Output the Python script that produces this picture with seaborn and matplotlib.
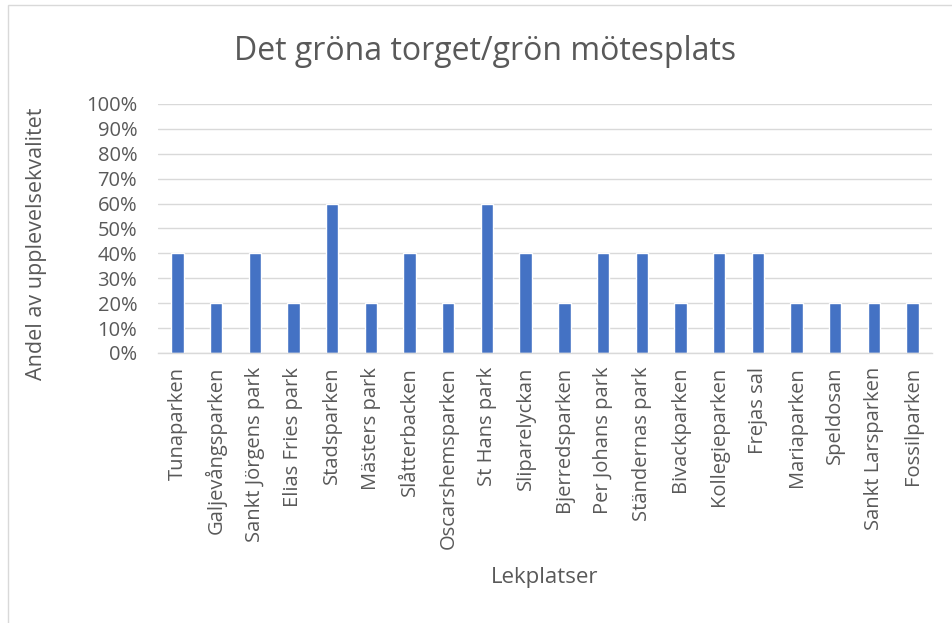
import numpy as np
import pandas as pd
import matplotlib
matplotlib.use("Agg")
import matplotlib.pyplot as plt
import seaborn as sns
from matplotlib.ticker import PercentFormatter
from matplotlib.patches import Rectangle

# Data
parker = ["Tunaparken", "Galjevångsparken", "Sankt Jörgens park", "Elias Fries park",
          "Stadsparken", "Mästers park", "Slåtterbacken", "Oscarshemsparken",
          "St Hans park", "Sliparelyckan", "Bjerredsparken", "Per Johans park",
          "Ständernas park", "Bivackparken", "Kollegieparken", "Frejas sal",
          "Mariaparken", "Speldosan", "Sankt Larsparken", "Fossilparken"]
andel = [0.4, 0.2, 0.4, 0.2, 0.6, 0.2, 0.4, 0.2, 0.6, 0.4,
         0.2, 0.4, 0.4, 0.2, 0.4, 0.4, 0.2, 0.2, 0.2, 0.2]

df = pd.DataFrame({"park": parker, "andel": andel})

sns.set_theme(style="white")
plt.rcParams['font.family'] = ['Open Sans', 'DejaVu Sans']
grey = "#595959"

fig = plt.figure(figsize=(9.52, 6.23), dpi=100)
ax = fig.add_axes([0.166, 0.4334, 0.813, 0.3997])

sns.barplot(data=df, x="park", y="andel", color="#4472C4", width=0.32,
            saturation=1, ax=ax)

ax.set_ylim(0, 1)
ax.set_yticks(np.arange(0, 1.01, 0.1))
ax.yaxis.set_major_formatter(PercentFormatter(1.0, decimals=0))
ax.grid(axis="y", color="#d9d9d9", linewidth=1)
ax.set_axisbelow(True)
for s in ["top", "right", "left"]:
    ax.spines[s].set_visible(False)
ax.spines["bottom"].set_color("#d9d9d9")
ax.spines["bottom"].set_linewidth(1)
ax.tick_params(axis="both", length=0, colors=grey, labelsize=14.5)
ax.tick_params(axis="x", pad=10)
ax.tick_params(axis="y", pad=15)
plt.setp(ax.get_xticklabels(), rotation=90)

ax.set_xlabel("Lekplatser", color=grey, fontsize=16)
ax.set_ylabel("Andel av upplevelsekvalitet", color=grey, fontsize=15.5)
ax.xaxis.set_label_coords(0.5, -0.86)
ax.yaxis.set_label_coords(-0.143, 0.44)

fig.text(0.51, 0.917, "Det gröna torget/grön mötesplats", ha="center", va="center",
         color=grey, fontsize=23)

fig.patches.append(Rectangle((0.008, -0.01), 1.2, 1.002, transform=fig.transFigure,
                             fill=False, edgecolor="#d9d9d9", linewidth=1))

fig.savefig("out.png", dpi=100)
